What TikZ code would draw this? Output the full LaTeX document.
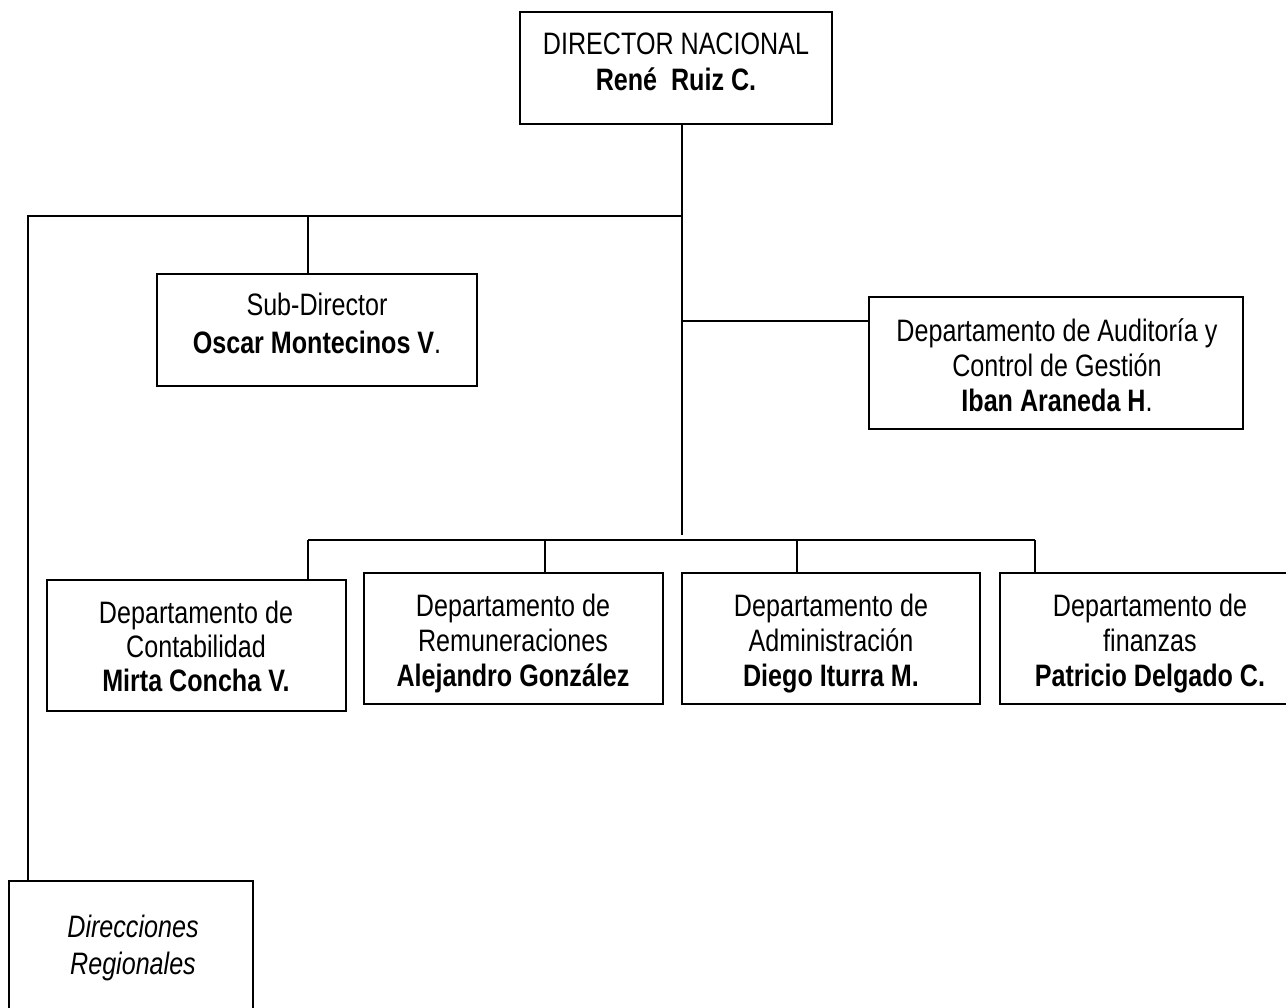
\documentclass[tikz,border=0pt]{standalone}
\usepackage{fontspec}
\setmainfont{Liberation Sans}[FakeStretch=0.81]
\begin{document}
\begin{tikzpicture}[x=1pt,y=-1pt,line width=1.5pt,
  box/.style={draw,line width=1.5pt,inner sep=0pt,outer sep=0pt,anchor=north west},
  txt/.style={align=center,inner sep=0pt,anchor=north,font=\fontsize{31}{35}\selectfont},
  conn/.style={draw,line width=1.5pt}]
\useasboundingbox (0,0) rectangle (1286,1008);
% boxes
\node[box,minimum width=312pt,minimum height=112pt] (dir) at (520,12) {};
\node[box,minimum width=320pt,minimum height=112pt] (sub) at (157,274) {};
\node[box,minimum width=374pt,minimum height=132pt] (aud) at (869,297) {};
\node[box,minimum width=299pt,minimum height=131pt] (cont) at (47,580) {};
\node[box,minimum width=299pt,minimum height=131pt] (rem) at (364,573) {};
\node[box,minimum width=298pt,minimum height=131pt] (adm) at (682,573) {};
\node[box,minimum width=300pt,minimum height=131pt] (fin) at (1000,573) {};
\node[box,minimum width=244pt,minimum height=140pt] (reg) at (9,881) {};
% texts
\node[txt,font=\fontsize{31}{36}\selectfont] (dirt) at (676,32) {\rule{0pt}{22pt}DIRECTOR NACIONAL\\\textbf{René\ \ Ruiz C.}};
\node[txt,font=\fontsize{31}{38}\selectfont] (subt) at (317,292) {\rule{0pt}{22pt}Sub-Director\\\textbf{Oscar Montecinos V}.};
\node[txt,font=\fontsize{31}{35}\selectfont] (audt) at (1057,318) {\rule{0pt}{22pt}Departamento de Auditoría y\\Control de Gestión\\\textbf{Iban Araneda H}.};
\node[txt,font=\fontsize{31}{34}\selectfont] (contt) at (196,600) {\rule{0pt}{22pt}Departamento de\\Contabilidad\\\textbf{Mirta Concha V.}};
\node[txt] (remt) at (513,593) {\rule{0pt}{22pt}Departamento de\\Remuneraciones\\\textbf{Alejandro González}};
\node[txt] (admt) at (831,593) {\rule{0pt}{22pt}Departamento de\\Administración\\\textbf{Diego Iturra M.}};
\node[txt] (fint) at (1150,593) {\rule{0pt}{22pt}Departamento de\\finanzas\\\textbf{Patricio Delgado C.}};
\node[txt,font=\fontsize{31}{37}\itshape] (regt) at (133,914) {\rule{0pt}{22pt}Direcciones\\Regionales};
% junction coordinates
\coordinate (t0) at (682,124);
\coordinate (t1) at (682,216);
\coordinate (t2) at (682,321);
\coordinate (t3) at (682,535);
\coordinate (l1) at (28,216);
\coordinate (s1) at (308,216);
\coordinate (b1) at (308,540);
\coordinate (b2) at (545,540);
\coordinate (b3) at (797,540);
\coordinate (b4) at (1035,540);
% connectors
\draw[conn] (dir.south -| t0) -- (t3);
\draw[conn] (t1) -- (l1) -- (reg.north -| l1);
\draw[conn] (s1) -- (sub.north -| s1);
\draw[conn] (t2) -- (aud.west |- t2);
\draw[conn] (b1) -- (b4);
\draw[conn] (b1) -- (cont.north -| b1);
\draw[conn] (b2) -- (rem.north -| b2);
\draw[conn] (b3) -- (adm.north -| b3);
\draw[conn] (b4) -- (fin.north -| b4);
\end{tikzpicture}
\end{document}
